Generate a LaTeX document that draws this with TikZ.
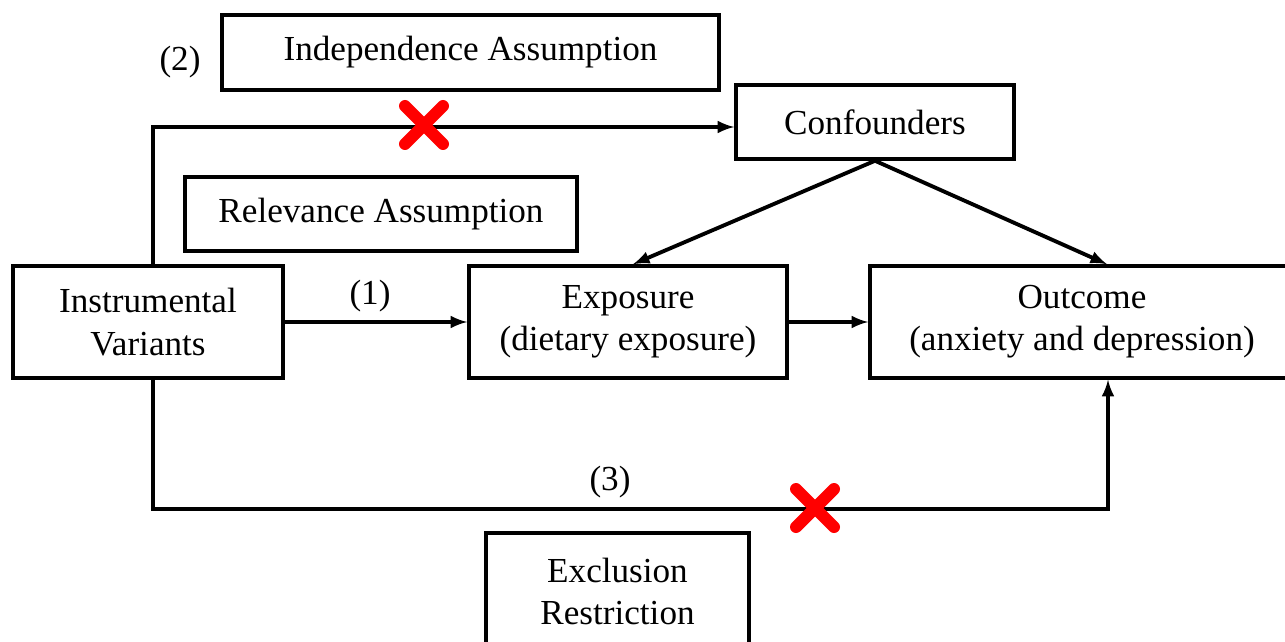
\documentclass[tikz,border=0pt]{standalone}
\usepackage{fontspec}
\setmainfont{Liberation Serif}
\usetikzlibrary{positioning}

\tikzset{
  box/.style={draw,line width=2pt,align=center,inner sep=2pt,font=\fontsize{20}{24}\selectfont},
  lbl/.style={font=\fontsize{20}{24}\selectfont},
  link/.style={line width=2.2pt,-latex},
  nogo/.style={red,line width=0.24cm,line cap=round}
}

\begin{document}
\begin{tikzpicture}
\useasboundingbox (0,0) rectangle (25.7,-12.82);
\begin{scope}
\clip (0,0) rectangle (25.7,-12.82);
\node[box,minimum width=9.94cm,minimum height=1.5cm] (indep) at (9.41,-1.05) {Independence Assumption};
\node[box,minimum width=5.56cm,minimum height=1.48cm] (conf) at (17.5,-2.44) {Confounders};
\node[box,minimum width=7.84cm,minimum height=1.48cm] (relev) at (7.62,-4.28) {Relevance Assumption};
\node[box,minimum width=5.4cm,minimum height=2.24cm] (iv) at (2.96,-6.44) {Instrumental\\Variants};
\node[box,minimum width=6.36cm,minimum height=2.24cm] (expo) at (12.56,-6.44) {Exposure\\(dietary exposure)};
\node[box,minimum width=8.48cm,minimum height=2.24cm] (outc) at (21.64,-6.44) {Outcome\\(anxiety and depression)};
\node[box,minimum width=5.26cm,minimum height=2.34cm] (excl) at (12.35,-11.83) {Exclusion\\Restriction};
\end{scope}
\node[lbl] (l2) at (3.6,-1.24) {(2)};
\node[lbl] (l1) at (7.4,-5.92) {(1)};
\node[lbl] (l3) at (12.2,-9.64) {(3)};
% paths
\draw[link] ([xshift=0.1cm]iv.north) |- ([yshift=-0.1cm]conf.west);
\draw[link] (conf.south) -- ([xshift=0.1cm]expo.north);
\draw[link] (conf.south) -- ([xshift=0.5cm]outc.north);
\draw[link] (iv.east) -- (expo.west);
\draw[link] (expo.east) -- (outc.west);
\coordinate (bend) at (3.06,-10.18);
\draw[link] ([xshift=0.1cm]iv.south) -- (bend) -| ([xshift=0.52cm]outc.south);
% crosses
\coordinate (x1) at (8.48,-2.5);
\coordinate (x2) at (16.3,-10.16);
\foreach \c in {x1,x2}{
  \draw[nogo] ([shift={(-0.38,-0.38)}]\c) -- ([shift={(0.38,0.38)}]\c);
  \draw[nogo] ([shift={(-0.38,0.38)}]\c) -- ([shift={(0.38,-0.38)}]\c);
}
\end{tikzpicture}
\end{document}
